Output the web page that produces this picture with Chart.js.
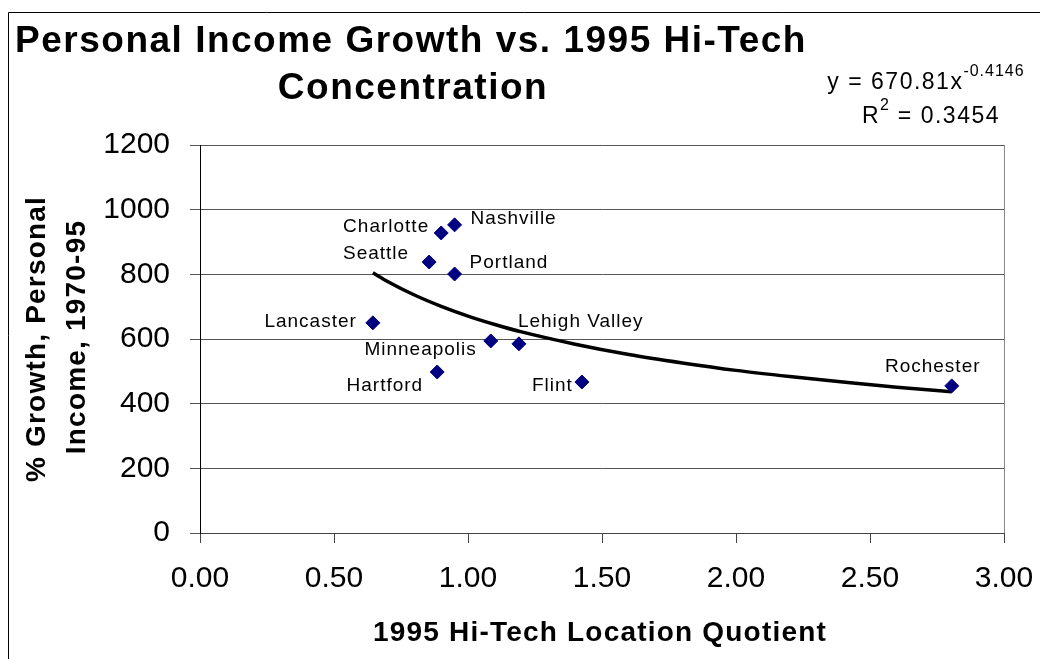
<!DOCTYPE html>
<html>
<head>
<meta charset="utf-8">
<script src="https://cdn.jsdelivr.net/npm/chart.js@4.4.0/dist/chart.umd.min.js"></script>
<style>
html, body { margin: 0; padding: 0; background: #fff; }
</style>
</head>
<body>
<canvas id="Chart1" width="1040" height="659"></canvas>
<script>
// data
var cities = ["Lancaster", "Seattle", "Charlotte", "Nashville", "Portland",
              "Minneapolis", "Lehigh Valley", "Hartford", "Flint", "Rochester"];
var hiTechLQ = [0.645, 0.855, 0.90, 0.95, 0.95, 1.085, 1.19, 0.885, 1.425, 2.805];
var incomeGrowth = [650, 838, 928, 953, 801, 594, 585, 498, 467, 455];

// power trendline, values
var trendLQ = [0.645, 0.7, 0.8, 0.9, 1.0, 1.1, 1.2, 1.4, 1.6, 1.8, 2.0, 2.2, 2.4, 2.6, 2.805];
var trendGrowth = [805, 778, 736, 701, 671, 645, 622, 584, 552, 526, 503, 484, 467, 451, 437];

var titleLines = ["Personal Income Growth vs. 1995 Hi-Tech", "Concentration"];
var xTitle = "1995 Hi-Tech Location Quotient";
var yTitleLines = ["% Growth, Personal", "Income, 1970-95"];

// label placement next to each point: dx, dy, align
var labelPos = [
    [-16, -1, "right"], [-20, -8, "right"], [-12, -6, "right"], [16, -6, "left"],
    [15, -11, "left"], [-14, 9, "right"], [-1, -22, "left"], [-14, 14, "right"],
    [-9, 4, "right"], [-19, -19, "center"]
];

var FONT = "'Liberation Sans', Arial, sans-serif";
Chart.defaults.font.family = FONT;
Chart.defaults.color = "#000";

var points = hiTechLQ.map(function (x, i) { return {x: x, y: incomeGrowth[i]}; });
var trend = trendLQ.map(function (x, i) { return {x: x, y: trendGrowth[i]}; });

function spaced(ctx, px) {
    if ('letterSpacing' in ctx) ctx.letterSpacing = px + "px";
}

var textPlugin = {
    id: 'texts',
    afterDraw: function (chart) {
        var ctx = chart.ctx;
        var area = chart.chartArea;
        ctx.save();

        // outer frame (left and top)
        ctx.strokeStyle = "#000";
        ctx.lineWidth = 1;
        ctx.beginPath();
        ctx.moveTo(8.5, 659);
        ctx.lineTo(8.5, 12.5);
        ctx.lineTo(1040, 12.5);
        ctx.stroke();

        // plot right border
        ctx.strokeStyle = "#888";
        ctx.beginPath();
        ctx.moveTo(Math.round(area.right) + 0.5, area.top);
        ctx.lineTo(Math.round(area.right) + 0.5, area.bottom);
        ctx.stroke();

        ctx.fillStyle = "#000";
        ctx.textBaseline = "middle";

        // title
        ctx.font = "bold 37px " + FONT;
        spaced(ctx, 1.5);
        ctx.textAlign = "center";
        ctx.fillText(titleLines[0], 411, 42);
        ctx.fillText(titleLines[1], 413, 89);

        // axis titles
        ctx.font = "bold 28px " + FONT;
        spaced(ctx, 1.2);
        ctx.fillText(xTitle, 600, 633);
        ctx.save();
        ctx.translate(37, 339);
        ctx.rotate(-Math.PI / 2);
        ctx.fillText(yTitleLines[0], 0, 0);
        ctx.restore();
        ctx.save();
        ctx.translate(77, 337);
        ctx.rotate(-Math.PI / 2);
        ctx.fillText(yTitleLines[1], 0, 0);
        ctx.restore();

        // trendline equation
        ctx.textAlign = "left";
        ctx.font = "23px " + FONT;
        spaced(ctx, 1.5);
        var a = "y = 670.81x", aw = ctx.measureText(a).width;
        ctx.font = "16px " + FONT;
        spaced(ctx, 1);
        var b = "-0.4146", bw = ctx.measureText(b).width;
        var x0 = 926 - (aw + bw) / 2;
        ctx.font = "23px " + FONT;
        spaced(ctx, 1.5);
        ctx.fillText(a, x0, 83);
        ctx.font = "16px " + FONT;
        spaced(ctx, 1);
        ctx.fillText(b, x0 + aw, 72);

        ctx.font = "23px " + FONT;
        spaced(ctx, 1.5);
        var r = "R", rw = ctx.measureText(r).width;
        var r3 = " = 0.3454", r3w = ctx.measureText(r3).width;
        ctx.font = "16px " + FONT;
        spaced(ctx, 1);
        var r2 = "2", r2w = ctx.measureText(r2).width;
        var x1 = 931 - (rw + r2w + r3w) / 2;
        ctx.font = "23px " + FONT;
        spaced(ctx, 1.5);
        ctx.fillText(r, x1, 117);
        ctx.fillText(r3, x1 + rw + r2w, 117);
        ctx.font = "16px " + FONT;
        spaced(ctx, 1);
        ctx.fillText(r2, x1 + rw, 106);

        // point labels
        var meta = chart.getDatasetMeta(0);
        ctx.font = "19px " + FONT;
        spaced(ctx, 1);
        meta.data.forEach(function (pt, i) {
            var p = labelPos[i];
            ctx.textAlign = p[2];
            ctx.fillText(cities[i], pt.x + p[0], pt.y + p[1]);
        });

        ctx.restore();
    }
};

var ctxS = document.getElementById("Chart1").getContext('2d');
var myChart = new Chart(ctxS, {
    type: 'scatter',
    data: {
        datasets: [{
            label: 'Cities',
            data: points,
            pointStyle: 'rectRot',
            pointRadius: 7,
            pointHoverRadius: 7,
            backgroundColor: '#000080',
            borderColor: '#000080',
            borderWidth: 1,
            order: 0
        }, {
            label: 'Power trend',
            data: trend,
            showLine: true,
            pointRadius: 0,
            borderColor: '#000',
            borderWidth: 3.5,
            cubicInterpolationMode: 'monotone',
            order: 1
        }]
    },
    options: {
        responsive: false,
        animation: false,
        events: [],
        layout: { padding: { top: 145, right: 36, left: 0, bottom: 0 } },
        plugins: {
            legend: { display: false },
            tooltip: { enabled: false },
            title: { display: false }
        },
        scales: {
            x: {
                type: 'linear',
                min: 0,
                max: 3,
                afterFit: function (s) {
                    s.height = 126;
                    s.paddingLeft = 0;
                    s.paddingRight = 0;
                },
                ticks: {
                    stepSize: 0.5,
                    padding: 18,
                    font: { size: 30 },
                    color: '#000',
                    callback: function (v) { return v.toFixed(2); }
                },
                grid: { drawOnChartArea: false, tickLength: 10, color: '#444' },
                border: { color: '#444' }
            },
            y: {
                min: 0,
                max: 1200,
                afterFit: function (s) {
                    s.width = 200;
                    s.paddingTop = 0;
                    s.paddingBottom = 0;
                },
                ticks: {
                    stepSize: 200,
                    padding: 20,
                    font: { size: 30 },
                    color: '#000',
                    callback: function (v) { return String(v); }
                },
                grid: { tickLength: 10, color: '#555' },
                border: { color: '#000' }
            }
        }
    },
    plugins: [textPlugin]
});
</script>
</body>
</html>
